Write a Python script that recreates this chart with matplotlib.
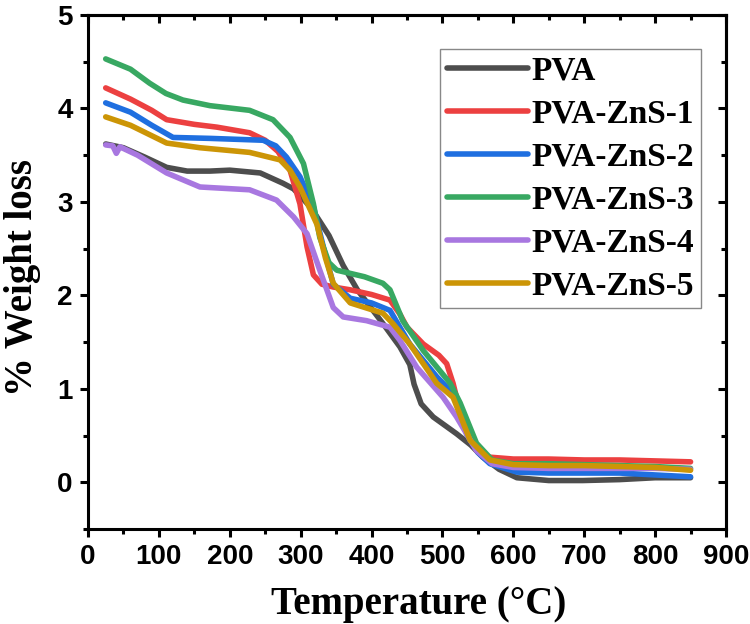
""" TGA weight loss curves of PVA and PVA-ZnS films
"""

import matplotlib.pyplot as plt
from matplotlib.ticker import MultipleLocator

# values (temperature in deg C, weight loss in %)
pva_t = [25, 50, 80, 111, 140, 172, 200, 243, 275, 290, 300, 312, 323, 340, 360,
         380, 400, 416, 440, 454, 460, 470, 487, 520, 540, 557, 580, 605, 650,
         698, 750, 800, 850]
pva_w = [3.62, 3.58, 3.48, 3.37, 3.33, 3.33, 3.34, 3.31, 3.20, 3.14, 3.06, 2.96,
         2.84, 2.64, 2.32, 2.06, 1.86, 1.70, 1.45, 1.26, 1.05, 0.84, 0.70, 0.52,
         0.40, 0.27, 0.14, 0.05, 0.02, 0.02, 0.03, 0.05, 0.05]

zns1_t = [25, 60, 90, 111, 150, 182, 228, 250, 268, 285, 299, 309, 318, 330, 346,
          370, 400, 426, 440, 450, 473, 495, 506, 515, 529, 548, 567, 600, 650,
          700, 750, 800, 850]
zns1_w = [4.22, 4.10, 3.98, 3.88, 3.83, 3.80, 3.74, 3.66, 3.54, 3.34, 2.98, 2.52,
          2.22, 2.12, 2.09, 2.06, 2.01, 1.95, 1.80, 1.66, 1.48, 1.36, 1.27, 1.06,
          0.63, 0.34, 0.27, 0.25, 0.25, 0.24, 0.24, 0.23, 0.22]

zns2_t = [25, 60, 90, 120, 172, 247, 265, 280, 299, 318, 332, 346, 370, 400,
          426, 454, 492, 515, 525, 534, 550, 567, 605, 650, 700, 750, 800, 850]
zns2_w = [4.06, 3.96, 3.82, 3.69, 3.68, 3.66, 3.60, 3.48, 3.27, 2.95, 2.52, 2.12,
          1.97, 1.92, 1.84, 1.48, 1.13, 0.95, 0.75, 0.52, 0.32, 0.20, 0.11, 0.10,
          0.10, 0.10, 0.08, 0.06]

zns3_t = [25, 60, 87, 110, 134, 172, 228, 261, 285, 304, 318, 327, 340, 351, 390,
          416, 426, 444, 473, 511, 525, 548, 570, 600, 650, 700, 750, 800, 850]
zns3_w = [4.53, 4.42, 4.27, 4.16, 4.09, 4.03, 3.98, 3.88, 3.69, 3.41, 2.98, 2.62,
          2.35, 2.27, 2.20, 2.13, 2.06, 1.73, 1.41, 1.06, 0.85, 0.42, 0.24, 0.20,
          0.20, 0.19, 0.18, 0.17, 0.15]

zns4_t = [25, 35, 40, 45, 70, 111, 158, 228, 266, 290, 309, 327, 346, 360, 393,
          426, 440, 464, 501, 520, 548, 570, 600, 650, 700, 750, 800, 850]
zns4_w = [3.61, 3.60, 3.52, 3.59, 3.50, 3.31, 3.16, 3.13, 3.02, 2.84, 2.66, 2.27,
          1.87, 1.77, 1.73, 1.66, 1.52, 1.23, 0.91, 0.70, 0.34, 0.20, 0.16, 0.15,
          0.15, 0.15, 0.15, 0.14]

zns5_t = [25, 60, 111, 158, 228, 271, 285, 299, 323, 335, 346, 370, 416, 430,
          454, 492, 515, 525, 539, 567, 600, 650, 700, 750, 800, 850]
zns5_w = [3.91, 3.82, 3.63, 3.58, 3.53, 3.45, 3.34, 3.16, 2.76, 2.40, 2.13, 1.92,
          1.81, 1.70, 1.48, 1.06, 0.91, 0.72, 0.45, 0.24, 0.19, 0.18, 0.18, 0.17,
          0.16, 0.13]

names = ['PVA', 'PVA-ZnS-1', 'PVA-ZnS-2', 'PVA-ZnS-3', 'PVA-ZnS-4', 'PVA-ZnS-5']
colors = ['#4d4d4d', '#ec4040', '#1f6fe0', '#38a862', '#a877e0', '#cc9506']

series = [(pva_t, pva_w), (zns1_t, zns1_w), (zns2_t, zns2_w),
          (zns3_t, zns3_w), (zns4_t, zns4_w), (zns5_t, zns5_w)]

fig = plt.figure(figsize=(7.5, 6.24), dpi=100)
ax = fig.add_axes([0.1173, 0.152, 0.8507, 0.824])

for (t, w), name, c in zip(series, names, colors):
    ax.plot(t, w, color=c, lw=4, label=name, solid_capstyle='round',
            solid_joinstyle='round')

ax.set_xlim(0, 900)
ax.set_ylim(-0.5, 5)
ax.xaxis.set_major_locator(MultipleLocator(100))
ax.xaxis.set_minor_locator(MultipleLocator(50))
ax.yaxis.set_major_locator(MultipleLocator(1))
ax.yaxis.set_minor_locator(MultipleLocator(0.5))

for sp in ax.spines.values():
    sp.set_linewidth(2.2)

ax.tick_params(which='major', direction='out', length=6, width=2.2, pad=5)
ax.tick_params(which='minor', direction='out', length=3.5, width=2.2)
for lab in ax.get_xticklabels() + ax.get_yticklabels():
    lab.set_family('Liberation Sans')
    lab.set_fontweight('bold')
    lab.set_fontsize(20)

# mirrored inward ticks on top and right
top = ax.secondary_xaxis('top')
top.xaxis.set_major_locator(MultipleLocator(100))
top.xaxis.set_minor_locator(MultipleLocator(50))
top.tick_params(which='major', direction='in', length=6, width=2.2, labeltop=False)
top.tick_params(which='minor', direction='in', length=3.5, width=2.2)
right = ax.secondary_yaxis('right')
right.yaxis.set_major_locator(MultipleLocator(1))
right.yaxis.set_minor_locator(MultipleLocator(0.5))
right.tick_params(which='major', direction='in', length=6, width=2.2, labelright=False)
right.tick_params(which='minor', direction='in', length=3.5, width=2.2)
top.spines['top'].set_linewidth(2.2)
right.spines['right'].set_linewidth(2.2)

lab_font = dict(family='Liberation Serif', weight='bold', size=28)
ax.set_xlabel('Temperature (°C)', **lab_font)
ax.set_ylabel('% Weight loss', **lab_font)
ax.xaxis.set_label_coords(0.519, -0.110)
ax.yaxis.set_label_coords(-0.074, 0.49)

leg = ax.legend(loc='upper right', bbox_to_anchor=(0.961, 0.934), borderaxespad=0,
                prop=dict(family='Liberation Serif', weight='bold', size=24),
                handlelength=2.45, handletextpad=0.1, labelspacing=0.36,
                fancybox=False, edgecolor='#888888', framealpha=1,
                borderpad=0.2)
leg.get_frame().set_linewidth(1.0)

fig.savefig('out.png', dpi=100)
